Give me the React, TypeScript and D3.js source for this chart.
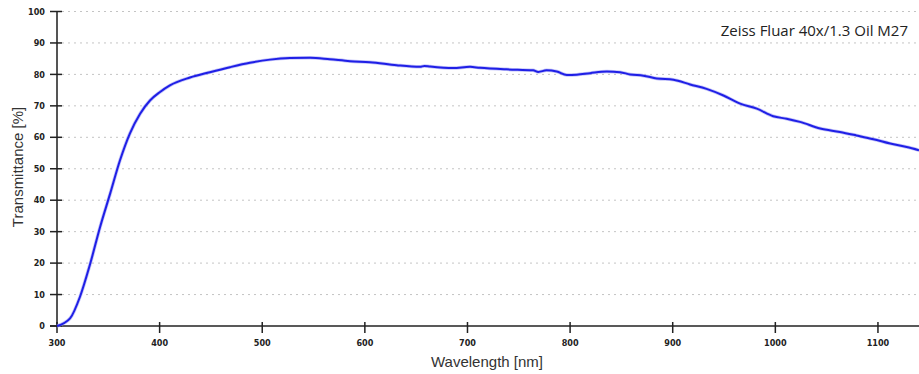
import React, { useRef, useEffect } from "react";
import * as d3 from "d3";

// wavelength [nm] and transmittance [%]
const wavelengths = [
  300, 312.7, 322.4, 332, 342, 351.7, 361.4, 371, 381, 390.6, 400.4, 410, 429.6, 449,
  468.6, 488, 507.6, 527, 546.6, 566, 585.6, 605, 631, 653.8, 658, 663.5, 686, 702.5,
  712, 738, 764, 769, 777, 787, 796.8, 806.5, 819.5, 835.8, 848.7, 858.5, 871.4, 884.5,
  900.7, 917, 933, 949.4, 965.7, 982, 998, 1011, 1024, 1043.7, 1063, 1079, 1095.6, 1112,
  1128, 1140,
];
const transmittance = [
  0, 2.4, 9.3, 19.4, 31.5, 42, 52.7, 61.2, 67.5, 71.7, 74.4, 76.5, 79, 80.7,
  82.3, 83.7, 84.7, 85.2, 85.3, 84.8, 84.2, 83.9, 82.9, 82.4, 82.7, 82.5, 82.0, 82.4,
  82.1, 81.6, 81.3, 80.8, 81.3, 80.9, 79.8, 79.9, 80.4, 80.9, 80.7, 80, 79.6, 78.7,
  78.3, 76.8, 75.4, 73.3, 70.7, 69.1, 66.7, 65.9, 64.9, 62.8, 61.7, 60.6, 59.4, 58,
  56.9, 55.9,
];
const xTicks = [300, 400, 500, 600, 700, 800, 900, 1000, 1100];
const yTicks = [0, 10, 20, 30, 40, 50, 60, 70, 80, 90, 100];
const title = "Zeiss Fluar 40x/1.3 Oil M27";

const App = () => {
  const ref = useRef<HTMLDivElement>(null);
  const width = 919;
  const height = 374;

  useEffect(() => {
    d3.select(ref.current).select("svg").remove();

    const svg = d3
      .select(ref.current)
      .append("svg")
      .attr("width", width)
      .attr("height", height)
      .style("display", "block");

    const x = d3.scaleLinear().domain([300, 1140]).range([57, 919]);
    const y = d3.scaleLinear().domain([0, 100]).range([326, 11.5]);

    const tickFont = "'Liberation Sans Narrow', 'DejaVu Sans Condensed', sans-serif";

    // grid
    svg
      .selectAll("grid")
      .data(yTicks.filter((d) => d > 0))
      .join("line")
      .attr("x1", 62)
      .attr("x2", width)
      .attr("y1", (d) => y(d))
      .attr("y2", (d) => y(d))
      .attr("stroke", "#c4c4c4")
      .attr("stroke-width", 1)
      .attr("stroke-dasharray", "2,4");

    // y axis
    svg
      .append("line")
      .attr("x1", 57)
      .attr("x2", 57)
      .attr("y1", y(100))
      .attr("y2", y(0))
      .attr("stroke", "#555")
      .attr("stroke-width", 2);

    svg
      .selectAll("yTick")
      .data(yTicks)
      .join("line")
      .attr("x1", 50)
      .attr("x2", 62)
      .attr("y1", (d) => y(d))
      .attr("y2", (d) => y(d))
      .attr("stroke", "#222")
      .attr("stroke-width", 1.5);

    svg
      .selectAll("yLabel")
      .data(yTicks)
      .join("text")
      .attr("x", 45)
      .attr("y", (d) => y(d))
      .attr("dy", "0.35em")
      .attr("text-anchor", "end")
      .style("font-family", tickFont)
      .style("font-weight", "bold")
      .style("font-size", "9px")
      .attr("fill", "#222")
      .text((d) => d);

    // x axis
    svg
      .append("line")
      .attr("x1", 50)
      .attr("x2", width)
      .attr("y1", y(0))
      .attr("y2", y(0))
      .attr("stroke", "#222")
      .attr("stroke-width", 1.5);

    svg
      .selectAll("xTick")
      .data(xTicks)
      .join("line")
      .attr("x1", (d) => x(d))
      .attr("x2", (d) => x(d))
      .attr("y1", 322)
      .attr("y2", 333)
      .attr("stroke", "#222")
      .attr("stroke-width", 1.5);

    svg
      .selectAll("xLabel")
      .data(xTicks)
      .join("text")
      .attr("x", (d) => x(d))
      .attr("y", 343)
      .attr("dy", "0.35em")
      .attr("text-anchor", "middle")
      .style("font-family", tickFont)
      .style("font-weight", "bold")
      .style("font-size", "9px")
      .attr("fill", "#222")
      .text((d) => d);

    // axis titles
    svg
      .append("text")
      .attr("x", 487)
      .attr("y", 367)
      .attr("text-anchor", "middle")
      .style("font-family", "'Liberation Sans', Arial, sans-serif")
      .style("font-size", "15px")
      .attr("fill", "#333")
      .text("Wavelength [nm]");

    svg
      .append("text")
      .attr("transform", "translate(23,167) rotate(-90)")
      .attr("text-anchor", "middle")
      .style("font-family", "'Liberation Sans', Arial, sans-serif")
      .style("font-size", "15px")
      .attr("fill", "#333")
      .text("Transmittance [%]");

    svg
      .append("text")
      .attr("x", 908)
      .attr("y", 36)
      .attr("text-anchor", "end")
      .style("font-family", "'Open Sans', sans-serif")
      .style("font-size", "15px")
      .attr("fill", "#222")
      .text(title);

    // curve
    const points = wavelengths.map((w, i) => [w, transmittance[i]] as [number, number]);
    const line = d3
      .line<[number, number]>()
      .x((d) => x(d[0]))
      .y((d) => y(d[1]))
      .curve(d3.curveMonotoneX);

    svg
      .append("path")
      .datum(points)
      .attr("d", line)
      .attr("fill", "none")
      .attr("stroke", "#9c9cf5")
      .attr("stroke-width", 3.5)
      .attr("opacity", 0.6);

    svg
      .append("path")
      .datum(points)
      .attr("d", line)
      .attr("fill", "none")
      .attr("stroke", "#1f1fe6")
      .attr("stroke-width", 2);
  }, []);

  return (
    <div
      ref={ref}
      style={{ position: "fixed", top: 0, left: 0, width, height, overflow: "hidden", background: "#fff" }}
    />
  );
};

export default App;
